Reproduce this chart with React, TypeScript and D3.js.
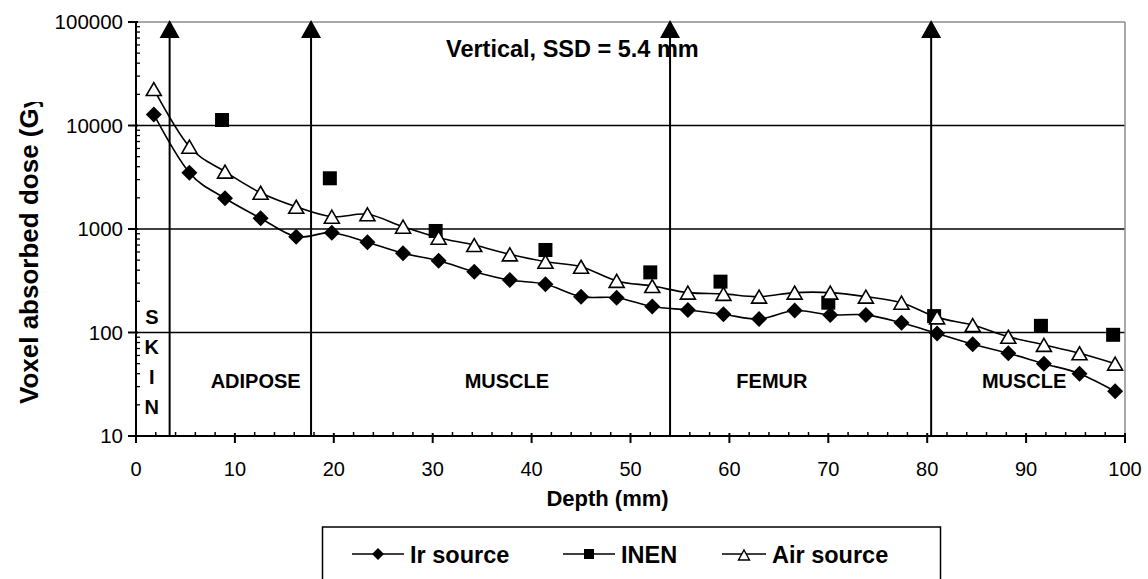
import React from "react";
import * as d3 from "d3";

// depth (mm) of the voxel centres
const depth = [1.8, 5.4, 9.0, 12.6, 16.2, 19.8, 23.4, 27.0, 30.6, 34.2, 37.8, 41.4, 45.0, 48.6,
  52.2, 55.8, 59.4, 63.0, 66.6, 70.2, 73.8, 77.4, 81.0, 84.6, 88.2, 91.8, 95.4, 99.0];
const irSource = [12800, 3500, 1980, 1270, 843, 921, 744, 582, 494, 387, 321, 292, 222, 217,
  178, 165, 150, 135, 163, 148, 148, 124, 98, 77, 63, 50, 40, 27];
const airSource = [22500, 6240, 3580, 2240, 1640, 1315, 1387, 1052, 824, 700, 569, 483, 432, 315,
  281, 243, 236, 222, 243, 243, 222, 194, 140, 118, 91, 76, 63, 50];
const inenDepth = [8.7, 19.6, 30.3, 41.4, 52.0, 59.1, 70.0, 80.7, 91.5, 98.8];
const inenDose = [11300, 3090, 957, 627, 381, 310, 194, 144, 116, 95];

const xTicks = [0, 10, 20, 30, 40, 50, 60, 70, 80, 90, 100];
const yTicks = [10, 100, 1000, 10000, 100000];
const boundaries = [3.4, 17.7, 54.0, 80.4];
const tissueLabels = ["ADIPOSE", "MUSCLE", "FEMUR", "MUSCLE"];
const tissueCenters = [12.1, 37.5, 64.3, 89.8];
const skinLetters = ["S", "K", "I", "N"];

const font = "'Liberation Sans', Arial, sans-serif";

const diamond = (s: number) => `M0,${-s}L${s},0L0,${s}L${-s},0Z`;
const triangle = (w: number, h: number) => `M0,${-h / 2}L${w / 2},${h / 2}L${-w / 2},${h / 2}Z`;

const App = () => {
  const W = 1148, H = 579;
  const x = d3.scaleLinear().domain([0, 100]).range([136, 1125]);
  const y = d3.scaleLog().domain([10, 100000]).range([436, 22]);
  const [x0, x1] = x.range();
  const [yb, yt] = y.range();

  const line = d3.line<number>()
    .x((d, i) => x(depth[i]))
    .y(d => y(d))
    .curve(d3.curveCatmullRom.alpha(0));

  const minorX = d3.range(0, 101, 2).filter(v => v % 10 !== 0);
  const minorY: number[] = [];
  for (let p = 10; p < 100000; p *= 10) for (let k = 2; k <= 9; k++) minorY.push(p * k);

  return (
    <svg width={W} height={H} style={{ position: "absolute", left: 0, top: 0, background: "#fff" }}
      fontFamily={font}>
      <defs>
        <clipPath id="ylab"><rect x={0} y={102} width={60} height={400} /></clipPath>
      </defs>

      {/* gridlines */}
      {yTicks.slice(1, 4).map(t => (
        <line key={t} x1={x0} x2={x1} y1={y(t)} y2={y(t)} stroke="#000" strokeWidth={1.6} />
      ))}
      <line x1={x0} x2={x1} y1={yt} y2={yt} stroke="#8c8c8c" strokeWidth={1.5} />
      <line x1={x1} x2={x1} y1={yt} y2={yb} stroke="#8c8c8c" strokeWidth={1.5} />

      {/* axes */}
      <line x1={x0} x2={x1} y1={yb} y2={yb} stroke="#000" strokeWidth={2} />
      <line x1={x0} x2={x0} y1={yt} y2={yb} stroke="#000" strokeWidth={2} />
      {xTicks.map(t => (
        <g key={t}>
          <line x1={x(t)} x2={x(t)} y1={yb - 3} y2={yb + 7} stroke="#000" strokeWidth={2} />
          <text x={x(t)} y={yb + 40} textAnchor="middle" fontSize={20}>{t}</text>
        </g>
      ))}
      {minorX.map(t => (
        <line key={t} x1={x(t)} x2={x(t)} y1={yb - 4} y2={yb} stroke="#000" strokeWidth={1.5} />
      ))}
      {yTicks.map(t => (
        <g key={t}>
          <line x1={x0 - 8} x2={x0 + 2} y1={y(t)} y2={y(t)} stroke="#000" strokeWidth={2} />
          <text x={x0 - 13} y={y(t) + 7} textAnchor="end" fontSize={20.5}>{t}</text>
        </g>
      ))}
      {minorY.map(t => (
        <line key={t} x1={x0} x2={x0 + 4} y1={y(t)} y2={y(t)} stroke="#000" strokeWidth={1.3} />
      ))}

      {/* tissue boundaries */}
      {boundaries.map(b => (
        <g key={b}>
          <line x1={x(b)} x2={x(b)} y1={yb} y2={yt + 14} stroke="#000" strokeWidth={2} />
          <path d={`M${x(b)},${yt - 2}L${x(b) + 10},${yt + 16}L${x(b) - 10},${yt + 16}Z`} fill="#000" />
        </g>
      ))}
      {tissueLabels.map((l, i) => (
        <text key={i} x={x(tissueCenters[i])} y={388} textAnchor="middle" fontSize={20}
          fontWeight="bold">{l}</text>
      ))}
      {skinLetters.map((l, i) => (
        <text key={i} x={x(1.6)} y={324 + i * 30} textAnchor="middle" fontSize={20}
          fontWeight="bold">{l}</text>
      ))}
      <text x={446} y={57} fontSize={23.5} fontWeight="bold">Vertical, SSD = 5.4 mm</text>

      {/* Ir source */}
      <path d={line(irSource) ?? ""} fill="none" stroke="#000" strokeWidth={1.6} />
      {irSource.map((v, i) => (
        <path key={i} d={diamond(8)} transform={`translate(${x(depth[i])},${y(v)})`} fill="#000" />
      ))}
      {/* INEN */}
      {inenDose.map((v, i) => (
        <rect key={i} x={x(inenDepth[i]) - 7} y={y(v) - 7} width={14} height={14} fill="#000" />
      ))}
      {/* Air source */}
      <path d={line(airSource) ?? ""} fill="none" stroke="#000" strokeWidth={1.6} />
      {airSource.map((v, i) => (
        <path key={i} d={triangle(15, 13)} transform={`translate(${x(depth[i])},${y(v)})`}
          fill="#fff" stroke="#000" strokeWidth={1.6} />
      ))}

      {/* axis titles */}
      <text x={(x0 + x1) / 2 - 23} y={506} textAnchor="middle" fontSize={22} fontWeight="bold">Depth (mm)</text>
      <g clipPath="url(#ylab)">
        <text transform={`translate(38,404) rotate(-90)`} fontSize={26} fontWeight="bold">
          Voxel absorbed dose (Gy)
        </text>
      </g>

      {/* legend */}
      <rect x={322.5} y={527} width={618} height={70} fill="#fff" stroke="#000" strokeWidth={1.5} />
      <g transform="translate(352,554)">
        <line x1={0} x2={52} y1={0} y2={0} stroke="#000" strokeWidth={1.6} />
        <path d={diamond(6)} transform="translate(26,0)" fill="#000" />
        <text x={58} y={9} fontSize={23.5} fontWeight="bold">Ir source</text>
      </g>
      <g transform="translate(563,554)">
        <line x1={0} x2={52} y1={0} y2={0} stroke="#000" strokeWidth={1.6} />
        <rect x={21} y={-5} width={10} height={10} fill="#000" />
        <text x={58} y={9} fontSize={23.5} fontWeight="bold">INEN</text>
      </g>
      <g transform="translate(722,554)">
        <line x1={0} x2={44} y1={0} y2={0} stroke="#000" strokeWidth={1.6} />
        <path d={triangle(11, 10)} transform="translate(22,1)" fill="#fff" stroke="#000" strokeWidth={1.4} />
        <text x={50} y={9} fontSize={23.5} fontWeight="bold">Air source</text>
      </g>
    </svg>
  );
};

export default App;
